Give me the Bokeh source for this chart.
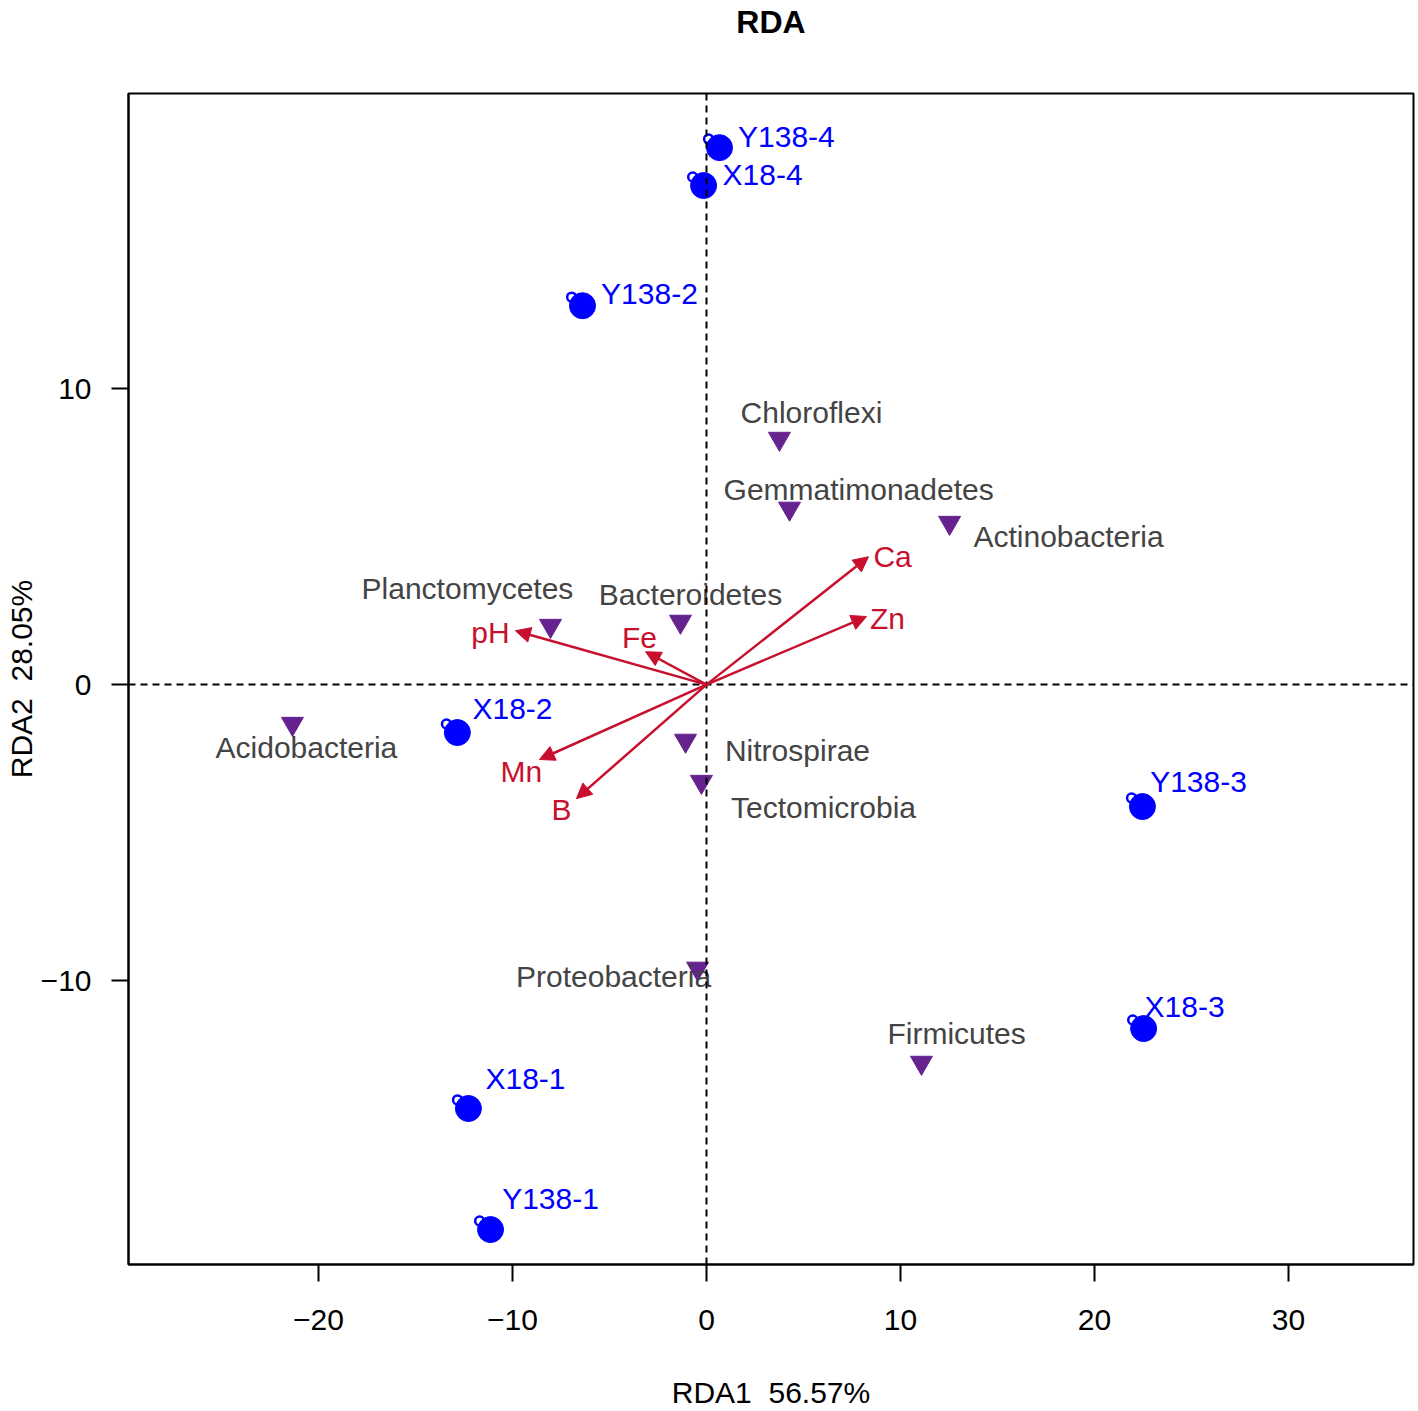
from bokeh.plotting import figure
from bokeh.models import Span, Arrow, NormalHead, ColumnDataSource, Range1d, FixedTicker, LinearAxis
from bokeh.embed import file_html
from bokeh.resources import INLINE
from bokeh.core.properties import value

# ---- data ----
site_names = ["Y138-4", "X18-4", "Y138-2", "X18-2", "Y138-3", "X18-3", "X18-1", "Y138-1"]
site_x = [0.67, -0.15, -6.39, -12.84, 22.47, 22.53, -12.27, -11.13]
site_y = [18.14, 16.86, 12.80, -1.62, -4.12, -11.62, -14.32, -18.41]
site_label_x = [4.12, 2.89, -2.94, -10.00, 25.36, 24.64, -9.33, -8.04]
site_label_y = [18.51, 17.23, 13.21, -0.81, -3.28, -10.88, -13.31, -17.36]

species_names = ["Chloroflexi", "Gemmatimonadetes", "Actinobacteria", "Planctomycetes",
                 "Bacteroidetes", "Acidobacteria", "Nitrospirae", "Tectomicrobia",
                 "Proteobacteria", "Firmicutes"]
species_x = [3.76, 4.28, 12.53, -8.04, -1.34, -21.34, -1.08, -0.26, -0.46, 11.08]
species_y = [8.31, 5.95, 5.47, 1.99, 2.13, -1.32, -1.89, -3.28, -9.59, -12.77]
species_label_x = [5.41, 7.84, 18.66, -12.32, -0.82, -20.62, 4.69, 6.03, -4.79, 12.89]
species_label_y = [9.19, 6.59, 5.00, 3.24, 3.04, -2.13, -2.23, -4.16, -9.86, -11.79]

env_names = ["Ca", "Zn", "pH", "Fe", "Mn", "B"]
env_x = [8.35, 8.25, -9.85, -3.14, -8.61, -6.70]
env_y = [4.32, 2.30, 1.82, 1.11, -2.53, -3.85]
env_label_x = [9.59, 9.33, -11.13, -3.45, -9.54, -7.47]
env_label_y = [4.32, 2.23, 1.76, 1.59, -2.94, -4.22]

x_ticks = [-20, -10, 0, 10, 20, 30]
x_tick_labels = ["\u221220", "\u221210", "0", "10", "20", "30"]
y_ticks = [-10, 0, 10]
y_tick_labels = ["\u221210", "0", "10"]

title_text = "RDA"
x_label = "RDA1 \u00a056.57%"
y_label = "RDA2 \u00a028.05%"

# ---- styles ----
FONT = "Liberation Sans"
FS = "30px"
BLUE = "#0000FF"
RED = "#C8102E"
PURPLE = "#66228E"
GREY = "#444444"

p = figure(width=1418, height=1411, output_backend="svg", toolbar_location=None,
           x_range=Range1d(-29.79, 36.44), y_range=Range1d(-19.59, 19.97),
           min_border_left=128, min_border_right=5, min_border_top=93, min_border_bottom=147)
p.grid.visible = False
p.outline_line_color = "black"
p.outline_line_width = 2
p.background_fill_color = "white"
p.border_fill_color = "white"

for ax, ticks, labels in ((p.xaxis[0], x_ticks, x_tick_labels), (p.yaxis[0], y_ticks, y_tick_labels)):
    ax.ticker = FixedTicker(ticks=ticks)
    ax.major_label_overrides = {t: l for t, l in zip(ticks, labels)}
    ax.minor_tick_line_color = None
    ax.major_tick_out = 17
    ax.major_tick_in = 0
    ax.major_tick_line_width = 2
    ax.major_tick_line_color = "black"
    ax.axis_line_width = 2
    ax.major_label_text_font = FONT
    ax.major_label_text_font_size = FS
    ax.major_label_text_color = "black"
    ax.axis_label_text_font = FONT
    ax.axis_label_text_font_size = FS
    ax.axis_label_text_font_style = "normal"
    ax.axis_label_text_color = "black"

p.xaxis.axis_label = x_label
p.yaxis.axis_label = y_label
p.xaxis.major_label_standoff = 28
p.yaxis.major_label_standoff = 20
p.xaxis.axis_label_standoff = 43
p.xaxis.axis_label_text_line_height = 0.6
p.yaxis.axis_label_standoff = 0
p.yaxis.major_label_orientation = "horizontal"

# chart title: drawn as the label of a bare axis above the frame
top = LinearAxis(ticker=FixedTicker(ticks=[]), axis_label=title_text,
                 axis_line_color=None, major_tick_line_color=None, minor_tick_line_color=None,
                 axis_label_text_font=FONT, axis_label_text_font_size="32px",
                 axis_label_text_font_style="bold", axis_label_text_color="black",
                 axis_label_standoff=54)
p.add_layout(top, "above")

# dashed zero lines
p.add_layout(Span(location=0, dimension="height", line_color="black", line_width=2, line_dash="7 5"))
p.add_layout(Span(location=0, dimension="width", line_color="black", line_width=2, line_dash="7 5"))

# environmental arrows
env_src = ColumnDataSource(dict(x0=[0] * len(env_x), y0=[0] * len(env_y), x1=env_x, y1=env_y))
p.add_layout(Arrow(x_start="x0", y_start="y0", x_end="x1", y_end="y1", source=env_src,
                   line_color=RED, line_width=2.5,
                   end=NormalHead(size=15, fill_color=RED, line_color=RED, line_width=1)))
p.text(x=env_label_x, y=env_label_y, text=env_names, text_align="center", text_baseline="middle",
       text_font=value(FONT), text_font_size=FS, text_color=RED)

# species
p.scatter(x=species_x, y=species_y, marker="inverted_triangle", size=22,
          fill_color=PURPLE, line_color=PURPLE)
p.text(x=species_label_x, y=species_label_y, text=species_names, text_align="center",
       text_baseline="middle", text_font=value(FONT), text_font_size=FS, text_color=GREY)

# sites: small open circle slightly up-left, then filled circle
dx, dy = -0.56, 0.29
p.scatter(x=[v + dx for v in site_x], y=[v + dy for v in site_y], marker="circle", size=9,
          fill_color=None, line_color=BLUE, line_width=2.5)
p.scatter(x=site_x, y=site_y, marker="circle", size=26, fill_color=BLUE, line_color=BLUE)
p.text(x=site_label_x, y=site_label_y, text=site_names, text_align="center", text_baseline="middle",
       text_font=value(FONT), text_font_size=FS, text_color=BLUE)

open("out.html", "w").write(file_html(p, INLINE))
